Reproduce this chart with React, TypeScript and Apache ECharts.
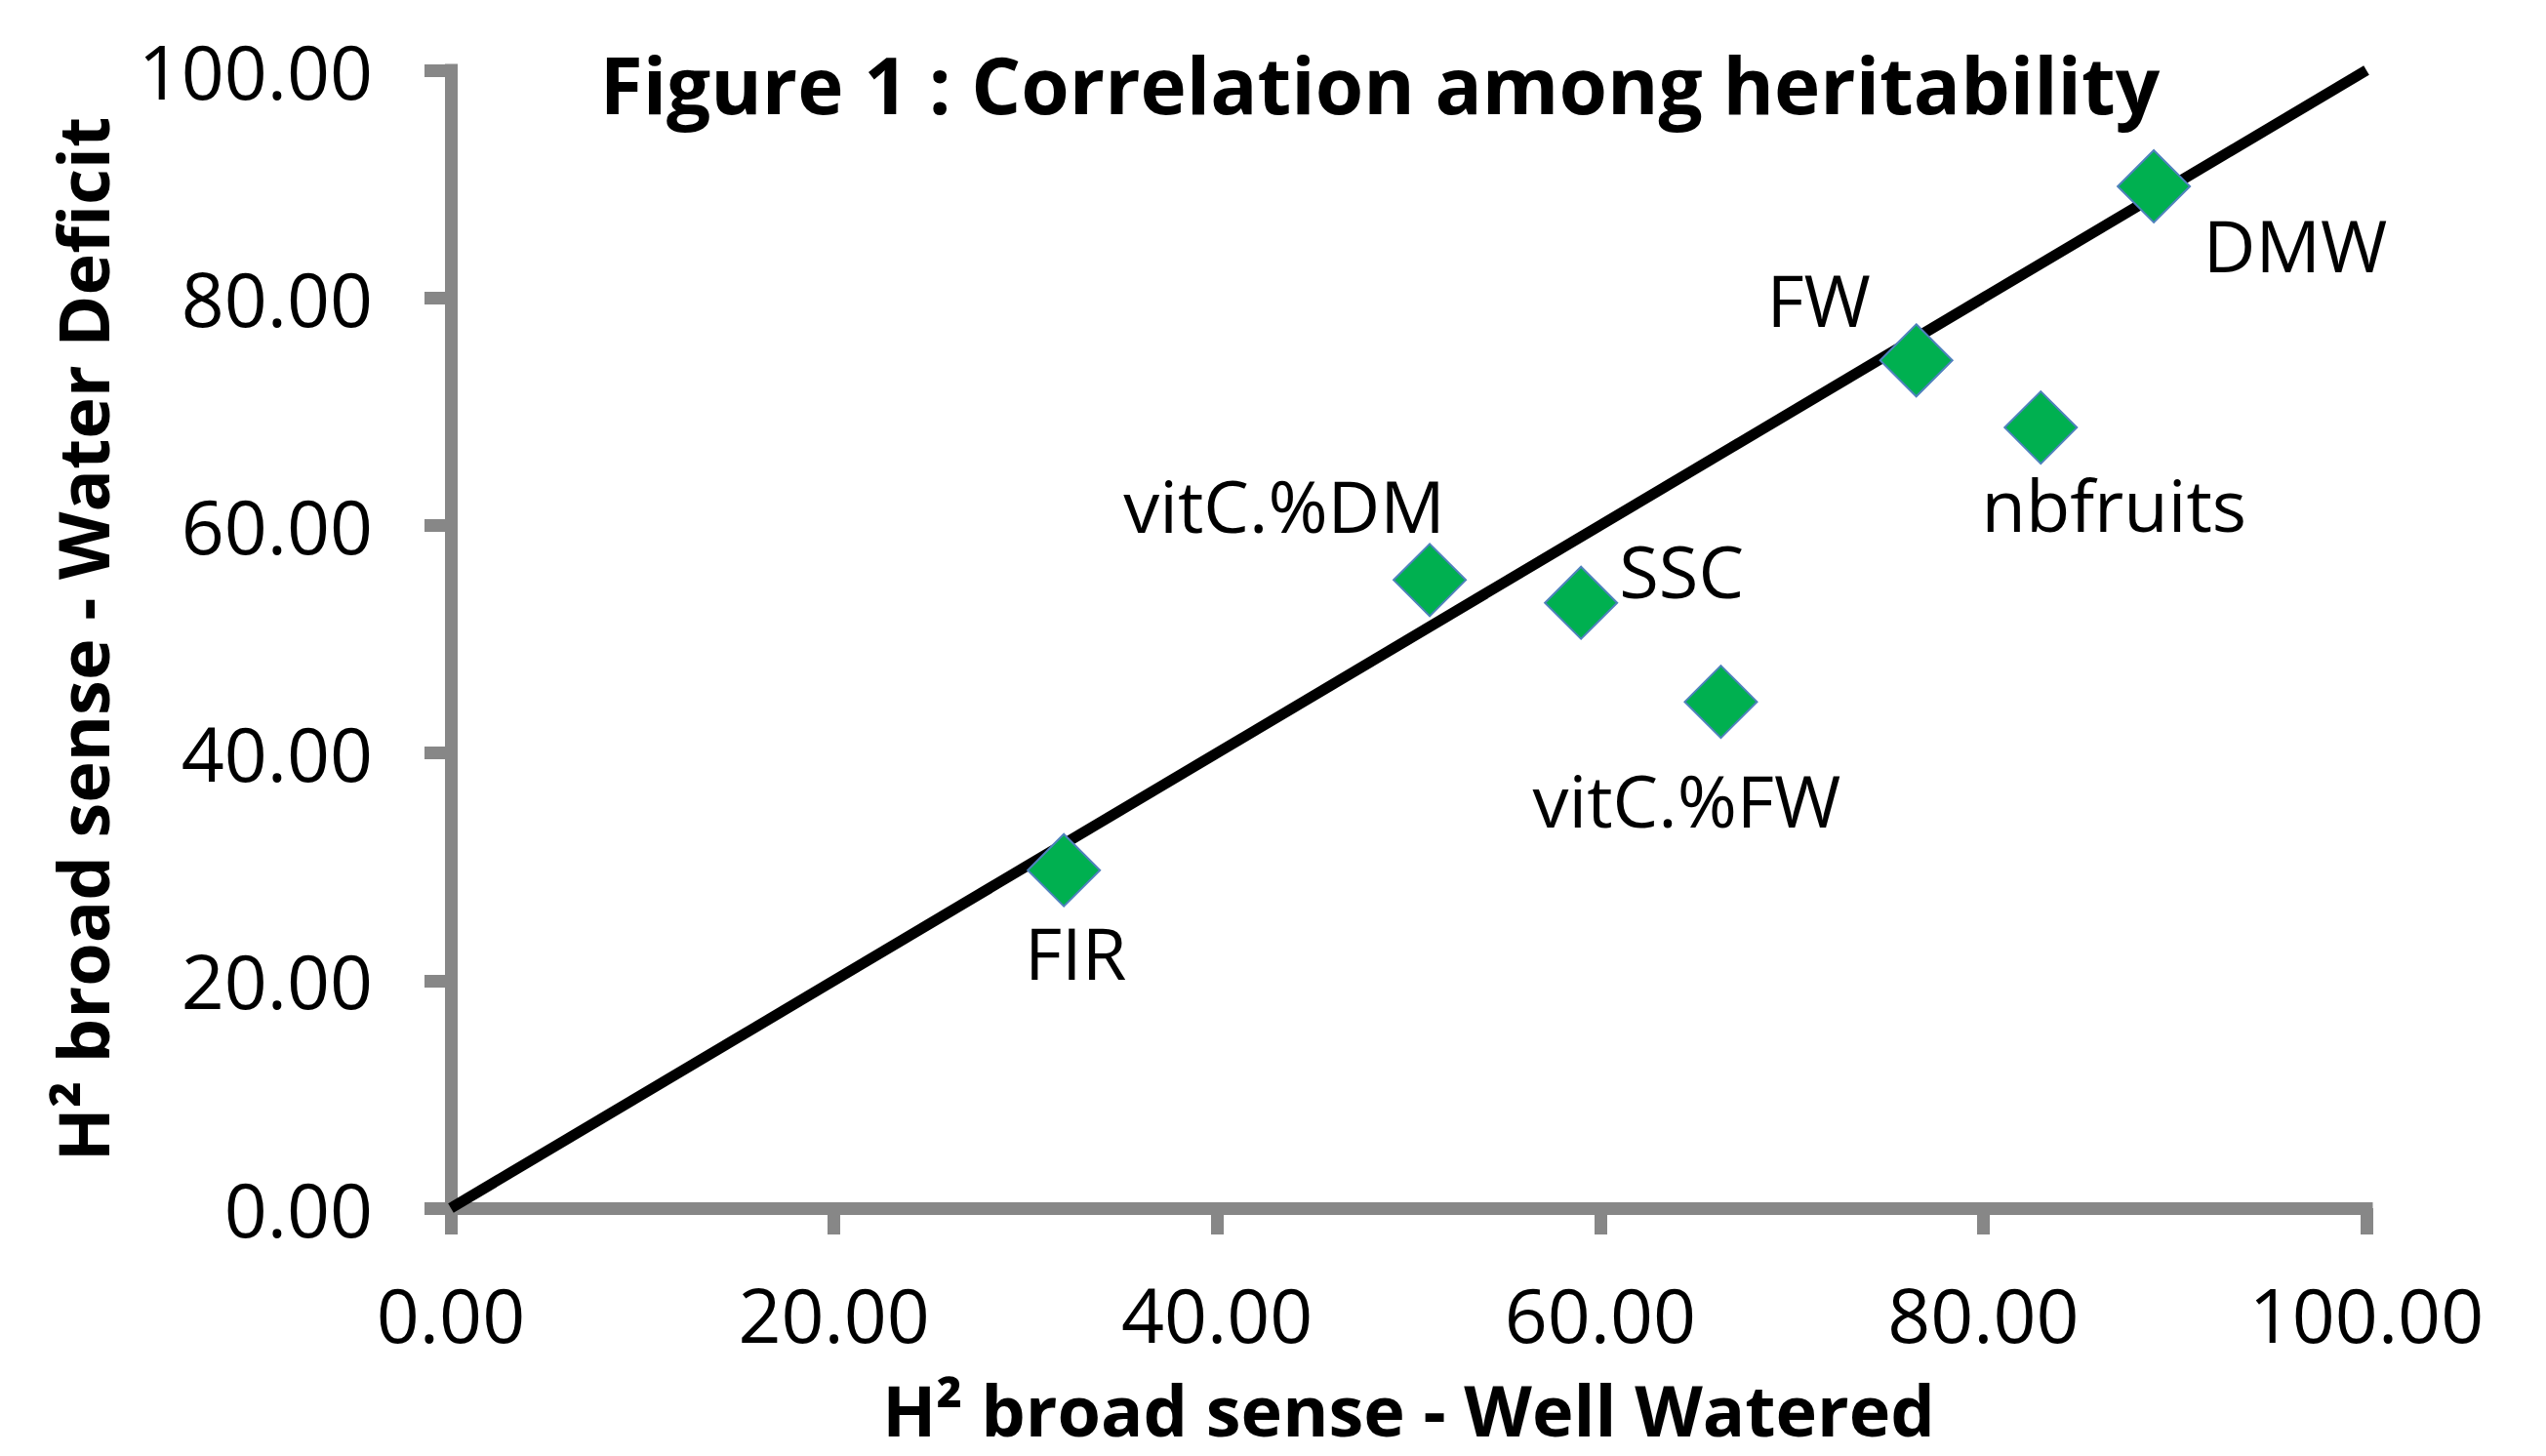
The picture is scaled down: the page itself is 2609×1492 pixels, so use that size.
import React, { useEffect, useRef } from "react";
import * as echarts from "echarts";

const traits = ["FIR", "vitC.%DM", "SSC", "vitC.%FW", "FW", "nbfruits", "DMW"];
const wellWatered = [32.0, 51.1, 59.0, 66.3, 76.5, 83.0, 88.9];
const waterDeficit = [29.7, 55.2, 53.2, 44.5, 74.5, 68.6, 89.8];
const refLineX = [0, 100];
const refLineY = [0, 100];

const titleText = "Figure 1 : Correlation among heritability";
const xName = "H² broad sense - Well Watered";
const yName = "H² broad sense - Water Deficit";

// label placement (layout only, px offsets from marker centre)
const labelOffsets: [number, number][] = [
  [12, 84],
  [-149, -77],
  [103, -33],
  [-35, 100],
  [-100, -63],
  [75, 78],
  [145, 60],
];

const FONT = "Open Sans";
const AXIS_GRAY = "#878787";

export default function App() {
  const ref = useRef<HTMLDivElement>(null);
  useEffect(() => {
    if (!ref.current) return;
    const chart = echarts.init(ref.current, undefined, { renderer: "svg" });
    const scatterData = traits.map((t, i) => ({
      name: t,
      value: [wellWatered[i], waterDeficit[i]],
      label: {
        show: true,
        formatter: t,
        position: "inside",
        align: "center",
        verticalAlign: "middle",
        offset: labelOffsets[i],
      },
    }));
    const axisCommon = {
      type: "value",
      min: 0,
      max: 100,
      interval: 20,
      splitLine: { show: false },
      axisLine: { show: true, lineStyle: { color: AXIS_GRAY, width: 13, cap: "square" } },
      axisTick: { show: true, inside: false, length: 27, lineStyle: { color: AXIS_GRAY, width: 13 } },
      axisLabel: {
        formatter: (v: number) => v.toFixed(2),
        fontFamily: FONT,
        fontSize: 77,
        color: "#000",
      },
      nameLocation: "middle",
      nameTextStyle: { fontFamily: FONT, fontWeight: "bold", fontSize: 72, color: "#000" },
    };
    chart.setOption({
      animation: false,
      backgroundColor: "#fff",
      title: {
        text: titleText,
        left: 1409,
        textAlign: "center",
        top: 40,
        textStyle: { fontFamily: FONT, fontWeight: "bold", fontSize: 80, color: "#000" },
      },
      grid: { left: 462, right: 184, top: 72, bottom: 254, containLabel: false },
      xAxis: {
        ...axisCommon,
        name: xName,
        nameGap: 170,
        axisLabel: { ...axisCommon.axisLabel, margin: 70 },
      },
      yAxis: {
        ...axisCommon,
        name: yName,
        nameGap: 342,
        nameRotate: 90,
        axisLabel: { ...axisCommon.axisLabel, margin: 80 },
      },
      series: [
        {
          type: "line",
          data: refLineX.map((x, i) => [x, refLineY[i]]),
          symbol: "none",
          lineStyle: { color: "#000", width: 11, cap: "butt" },
          z: 2,
        },
        {
          type: "scatter",
          data: scatterData,
          symbol: "diamond",
          symbolSize: 74,
          itemStyle: { color: "#00B050", borderColor: "#4F81BD", borderWidth: 2, opacity: 1 },
          label: { fontFamily: FONT, fontSize: 74, color: "#000", opacity: 1 },
          z: 3,
        },
      ],
    });
    return () => chart.dispose();
  }, []);
  return (
    <div
      ref={ref}
      style={{ position: "fixed", left: 0, top: 0, width: 2609, height: 1492, background: "#fff" }}
    />
  );
}
